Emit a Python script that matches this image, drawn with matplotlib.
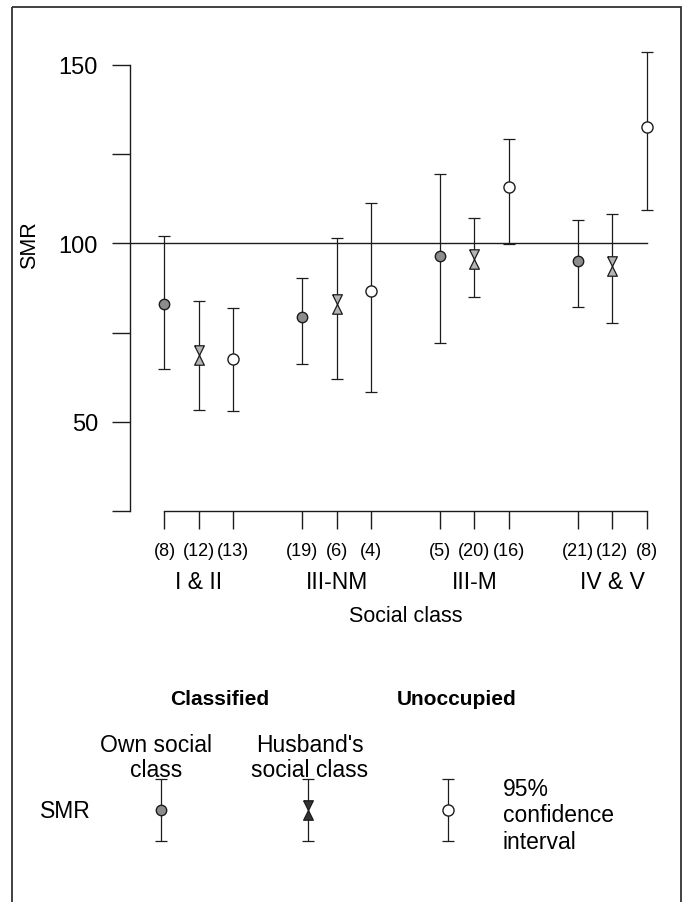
import matplotlib
matplotlib.use("Agg")
import matplotlib.pyplot as plt
from matplotlib.path import Path
from matplotlib.patches import Rectangle

plt.rcParams['font.family'] = ['Liberation Sans', 'DejaVu Sans']

# SMR by social class, women aged 15-64
classes = ['I & II', 'III-NM', 'III-M', 'IV & V']

own_smr = [83.0, 79.3, 96.6, 95.1]
own_lo = [64.8, 66.1, 72.1, 82.3]
own_hi = [102.2, 90.4, 119.4, 106.5]

husband_smr = [68.7, 82.9, 95.6, 93.6]
husband_lo = [53.3, 61.9, 85.1, 77.8]
husband_hi = [83.8, 101.5, 107.1, 108.3]

unocc_smr = [67.6, 86.7, 115.9, 132.5]
unocc_lo = [53.1, 58.3, 99.9, 109.3]
unocc_hi = [82.0, 111.2, 129.3, 153.7]

# number of deaths behind each estimate (own, husband, unoccupied)
own_n = [8, 19, 5, 21]
husband_n = [12, 6, 20, 12]
unocc_n = [13, 4, 16, 8]

INK = '#1c1c1c'

# hourglass marker: a down triangle sitting on an up triangle
hourglass = Path([(-0.5, 1.0), (0.5, 1.0), (0.0, 0.0), (-0.5, -1.0),
                  (0.5, -1.0), (0.0, 0.0), (-0.5, 1.0)])

fig = plt.figure(figsize=(6.89, 9.03), dpi=100)

# full-figure pixel axes for the frame and the key
lax = fig.add_axes([0, 0, 1, 1])
lax.set_xlim(0, 689)
lax.set_ylim(903, 0)
lax.axis('off')
lax.add_patch(Rectangle((12, 8), 669, 910, fill=False, ec='#333333', lw=1.3))

ax = fig.add_axes([130 / 689, 1 - 512 / 903, 527 / 689, 474.6 / 903])
ax.patch.set_alpha(0)

series = [
    (own_smr, own_lo, own_hi, dict(marker='o', ms=7.5, mfc='#8c8c8c', mec=INK, mew=1.0)),
    (husband_smr, husband_lo, husband_hi, dict(marker=hourglass, ms=14, mfc='#b4b4b4', mec=INK, mew=0.9)),
    (unocc_smr, unocc_lo, unocc_hi, dict(marker='o', ms=8, mfc='white', mec=INK, mew=1.0)),
]

xs_all = []
for k, (smr, lo, hi, style) in enumerate(series):
    xs = [g * 4 + k for g in range(len(classes))]
    yerr = [[s - l for s, l in zip(smr, lo)], [h - s for s, h in zip(smr, hi)]]
    ax.errorbar(xs, smr, yerr=yerr, fmt='none', ecolor=INK, elinewidth=0.9,
                capsize=4.5, capthick=0.9, zorder=2)
    ax.plot(xs, smr, ls='none', zorder=3, **style)
    xs_all += xs

counts = [n for trio in zip(own_n, husband_n, unocc_n) for n in trio]
ticks = sorted(xs_all)

# reference line at SMR = 100
ax.plot([-1, ticks[-1]], [100, 100], color=INK, lw=1.0, zorder=1)

ax.set_xlim(-1, 14.3)
ax.set_ylim(25, 158)
ax.spines['top'].set_visible(False)
ax.spines['right'].set_visible(False)
for s in ('left', 'bottom'):
    ax.spines[s].set_color(INK)
    ax.spines[s].set_linewidth(1.0)
ax.spines['left'].set_bounds(25, 150)
ax.spines['bottom'].set_bounds(ticks[0], ticks[-1])

ax.set_yticks([25, 50, 75, 100, 125, 150])
ax.set_yticklabels(['', '50', '', '100', '', '150'], fontsize=17)
ax.set_xticks(ticks)
ax.set_xticklabels(['(%d)' % n for n in counts], fontsize=13)
ax.tick_params(axis='both', direction='out', length=13, width=1.0, color=INK)
ax.tick_params(axis='y', pad=10)
ax.tick_params(axis='x', pad=9)

for g, name in enumerate(classes):
    ax.text(g * 4 + 1, -0.148, name, transform=ax.get_xaxis_transform(),
            ha='center', va='center', fontsize=16.5)
ax.text(7, -0.221, 'Social class', transform=ax.get_xaxis_transform(),
        ha='center', va='center', fontsize=15.5)
ax.set_ylabel('SMR', fontsize=15.5)
ax.yaxis.set_label_coords(-0.171, 0.563)

# key
lax.text(220, 700, 'Classified', ha='center', va='center', fontsize=15, weight='bold')
lax.text(457, 700, 'Unoccupied', ha='center', va='center', fontsize=15, weight='bold')
lax.text(156, 758, 'Own social\nclass', ha='center', va='center', fontsize=16.5,
         linespacing=1.15)
lax.text(310, 758, "Husband's\nsocial class", ha='center', va='center', fontsize=16.5,
         linespacing=1.15)
lax.text(65, 812, 'SMR', ha='center', va='center', fontsize=16.5)
lax.text(503, 816, '95%\nconfidence\ninterval', ha='left', va='center', fontsize=16.5,
         linespacing=1.2)

key_x = [161, 308, 448]
for kx, (smr, lo, hi, style) in zip(key_x, series):
    lax.errorbar([kx], [811], yerr=[[31], [31]], fmt='none', ecolor=INK,
                 elinewidth=0.9, capsize=4.5, capthick=0.9)
    st = dict(style)
    if st['mfc'] != 'white':
        st['mfc'] = '#333333' if st['marker'] is hourglass else '#8c8c8c'
    lax.plot([kx], [811], ls='none', **st)

fig.savefig('out.png', dpi=100)
